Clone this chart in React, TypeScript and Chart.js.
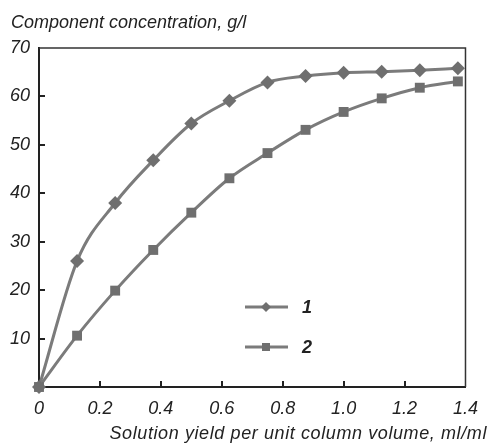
import React, { useEffect, useRef } from "react";
import { Chart, registerables } from "chart.js";

Chart.register(...registerables);

const xValues = [0, 0.125, 0.25, 0.375, 0.5, 0.625, 0.75, 0.875, 1.0, 1.125, 1.25, 1.375];
const series1 = [0, 26, 38, 46.8, 54.4, 59.1, 62.9, 64.2, 64.9, 65.1, 65.4, 65.8];
const series2 = [0, 10.6, 19.9, 28.3, 36, 43.1, 48.3, 53.1, 56.8, 59.6, 61.8, 63.1];
const seriesLabels = ["1", "2"];
const yTitle = "Component concentration, g/l";
const xTitle = "Solution yield per unit column volume, ml/ml";

const FONT = "'Liberation Sans', Arial, sans-serif";
const TEXT = "#222";
const LINE = "#7b7b7b";
const MARK = "#6f6f6f";

const decorPlugin = {
  id: "decor",
  afterDraw(chart: any) {
    const { ctx, chartArea } = chart;
    const xs = chart.scales.x;
    const ys = chart.scales.y;
    ctx.save();
    // top & right border
    ctx.strokeStyle = "#333";
    ctx.lineWidth = 1.5;
    ctx.beginPath();
    ctx.moveTo(chartArea.left, chartArea.top);
    ctx.lineTo(chartArea.right, chartArea.top);
    ctx.lineTo(chartArea.right, chartArea.bottom);
    ctx.stroke();
    // inward ticks
    ctx.strokeStyle = "#222";
    ctx.lineWidth = 2;
    ctx.beginPath();
    ys.ticks.forEach((t: any) => {
      if (t.value <= ys.min || t.value >= ys.max) return;
      const y = Math.round(ys.getPixelForValue(t.value));
      ctx.moveTo(chartArea.left, y);
      ctx.lineTo(chartArea.left + 6, y);
    });
    xs.ticks.forEach((t: any) => {
      if (t.value <= xs.min + 1e-9 || t.value >= xs.max - 1e-9) return;
      const x = Math.round(xs.getPixelForValue(t.value));
      ctx.moveTo(x, chartArea.bottom);
      ctx.lineTo(x, chartArea.bottom - 6);
    });
    ctx.stroke();
    // titles
    ctx.fillStyle = TEXT;
    ctx.font = `italic 18px ${FONT}`;
    ctx.textBaseline = "alphabetic";
    ctx.textAlign = "left";
    ctx.fillText(yTitle, 11, 28);
    ctx.textAlign = "right";
    (ctx as any).letterSpacing = "0.6px";
    ctx.fillText(xTitle, 487, 439);
    (ctx as any).letterSpacing = "0px";
    // legend
    const legY = [307, 347];
    chart.data.datasets.forEach((ds: any, i: number) => {
      const y = legY[i];
      ctx.strokeStyle = ds.borderColor;
      ctx.lineWidth = 3;
      ctx.beginPath();
      ctx.moveTo(245, y);
      ctx.lineTo(288, y);
      ctx.stroke();
      ctx.fillStyle = ds.pointBackgroundColor;
      ctx.beginPath();
      if (ds.pointStyle === "rectRot") {
        ctx.moveTo(266, y - 5);
        ctx.lineTo(271, y);
        ctx.lineTo(266, y + 5);
        ctx.lineTo(261, y);
        ctx.closePath();
      } else {
        ctx.rect(262, y - 4, 8, 8);
      }
      ctx.fill();
      ctx.fillStyle = TEXT;
      ctx.font = `italic bold 18px ${FONT}`;
      ctx.textAlign = "left";
      ctx.textBaseline = "middle";
      ctx.fillText(seriesLabels[i], 302, y + 1);
    });
    ctx.restore();
  },
};

export default function App() {
  const ref = useRef<HTMLCanvasElement | null>(null);
  useEffect(() => {
    document.body.style.margin = "0";
    const canvas = ref.current!;
    const chart = new Chart(canvas, {
      type: "line",
      data: {
        datasets: [
          {
            label: seriesLabels[0],
            data: xValues.map((x, i) => ({ x, y: series1[i] })),
            borderColor: LINE,
            borderWidth: 3,
            pointStyle: "rectRot",
            pointRadius: 7,
            pointBackgroundColor: MARK,
            pointBorderColor: MARK,
            pointBorderWidth: 0,
            tension: 0.3,
            cubicInterpolationMode: "monotone",
            clip: false,
          } as any,
          {
            label: seriesLabels[1],
            data: xValues.map((x, i) => ({ x, y: series2[i] })),
            borderColor: LINE,
            borderWidth: 3,
            pointStyle: "rect",
            pointRadius: 7,
            pointBackgroundColor: MARK,
            pointBorderColor: MARK,
            pointBorderWidth: 0,
            tension: 0.3,
            cubicInterpolationMode: "monotone",
            clip: false,
          } as any,
        ],
      },
      options: {
        animation: false,
        responsive: false,
        layout: { padding: { left: 0, right: 14, top: 48, bottom: 0 } },
        plugins: { legend: { display: false }, tooltip: { enabled: false } },
        scales: {
          x: {
            type: "linear",
            min: 0,
            max: 1.4,
            grid: { display: false, drawTicks: false },
            border: { display: true, color: "#222", width: 2 },
            ticks: {
              stepSize: 0.2,
              padding: 11,
              color: TEXT,
              font: { family: FONT, size: 18, style: "italic" },
              maxRotation: 0,
              autoSkip: false,
              callback: (v: any) => (Math.abs(v) < 1e-9 ? "0" : Number(v).toFixed(1)),
            },
            afterFit: (s: any) => {
              s.height = 57;
            },
          },
          y: {
            min: 0,
            max: 70,
            grid: { display: false, drawTicks: false },
            border: { display: true, color: "#222", width: 2 },
            ticks: {
              stepSize: 10,
              padding: 9,
              color: TEXT,
              font: { family: FONT, size: 18, style: "italic" },
              callback: (v: any) => (v === 0 ? "" : String(v)),
            },
            afterFit: (s: any) => {
              s.width = 39;
            },
          },
        },
      },
      plugins: [decorPlugin],
    });
    return () => chart.destroy();
  }, []);
  return <canvas ref={ref} width={489} height={444} style={{ display: "block" }} />;
}
